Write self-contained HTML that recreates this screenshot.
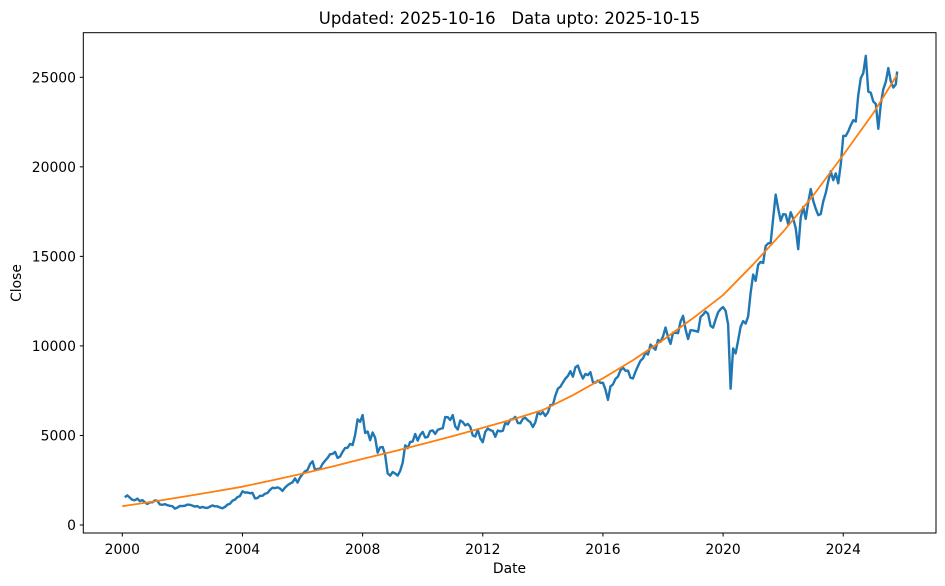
<!DOCTYPE html>
<html><head><meta charset="utf-8"><style>
html,body{margin:0;padding:0;background:#fff;}
svg{display:block;font-family:"DejaVu Sans","Liberation Sans",sans-serif;}
</style></head><body>
<svg id="chart" width="945" height="586" viewBox="0 0 945 586">
<rect x="0" y="0" width="945" height="586" fill="#fff"/>
<text x="509.5" y="24" text-anchor="middle" font-size="16.5" fill="#000" style="white-space:pre" xml:space="preserve">Updated: 2025-10-16   Data upto: 2025-10-15</text>
<g id="marks"></g>
<g id="axes"></g>
<text x="509.5" y="573" text-anchor="middle" font-size="13.9">Date</text>
<text transform="translate(21,283) rotate(-90)" text-anchor="middle" font-size="13.9">Close</text>
<rect x="83.3" y="32.7" width="852.7" height="500.3" fill="none" stroke="#000" stroke-width="1"/>
</svg>
<script>
const startYear = 2000;
const closes = [
1546,1654,1528,1406,1380,1471,1332,1394,1271,1172,1268,1264,
1371,1352,1148,1126,1167,1107,1073,1053,913,971,1067,1059,
1075,1142,1129,1084,1028,1058,960,1010,964,951,1026,1094,
1042,1041,978,934,1006,1134,1185,1356,1418,1556,1615,1880,
1809,1818,1772,1796,1484,1505,1632,1632,1746,1786,1959,2081,
2058,2103,2036,1902,2087,2221,2312,2385,2602,2370,2652,2837,
3001,3075,3403,3558,3071,3128,3143,3413,3588,3744,3955,3966,
4083,3745,3822,4088,4296,4318,4529,4464,5021,5901,5763,6139,
5137,5224,4735,5166,4870,4041,4333,4360,3921,2885,2755,2959,
2874,2763,3021,3474,4449,4291,4636,4662,5084,4712,5033,5201,
4882,4922,5249,5278,5087,5313,5368,5402,6030,6018,5863,6135,
5506,5333,5834,5750,5561,5647,5482,5001,4943,5327,4832,4624,
5199,5385,5296,5248,4924,5279,5229,5259,5703,5620,5880,5905,
6035,5693,5683,5930,5986,5842,5742,5472,5735,6299,6176,6304,
6090,6277,6704,6696,7230,7611,7721,7954,8174,8322,8588,8283,
8809,8902,8491,8182,8434,8369,8533,7971,7949,8066,7935,7946,
7564,6987,7738,7850,8160,8288,8639,8786,8611,8626,8224,8186,
8561,8880,9174,9304,9621,9521,10077,9918,9789,10335,10227,10531,
11028,10493,10114,10739,10736,10714,11357,11681,10930,10387,10877,10863,
10831,10793,11624,11748,11923,11789,11118,11023,11474,11877,12056,12168,
11962,11202,7610,9860,9580,10302,11073,11388,11248,11642,12969,13982,
13635,14529,14691,14631,15583,15722,15763,17132,18450,17672,16983,17354,
17340,16794,17465,17103,16585,15400,17158,17759,17094,18012,18758,18105,
17662,17304,17360,18065,18534,19189,19754,19254,19638,19080,20133,21731,
21726,21983,22327,22605,22531,24011,24951,25236,26200,24205,24131,23645,
23508,22125,23519,24334,24751,25517,24768,24427,24611,25324
];
const trendYears = [2000,2001,2002,2003,2004,2005,2006,2007,2008,2009,2010,2011,2012,2013,2014,2015,2016,2017,2018,2019,2020,2021,2022,2023,2024,2025,2025.79];
const trendValues = [1050,1300,1570,1850,2140,2500,2870,3270,3690,4100,4520,4960,5430,5900,6420,7250,8190,9200,10330,11550,12840,14550,16380,18400,20660,23000,25130];
const xTicks = [2000,2004,2008,2012,2016,2020,2024];
const yTicks = [0,5000,10000,15000,20000,25000];

const NS="http://www.w3.org/2000/svg";
const xs = yr => 122.3 + (yr-2000)*30.04;
const ys = v => 525 - v*(525-77.3)/25000;
const marks=document.getElementById('marks'), axes=document.getElementById('axes');

let d='';
closes.forEach((v,i)=>{const yr=startYear+(i+1)/12-(i===closes.length-1?0.04:0);d+=(i?'L':'M')+xs(yr).toFixed(2)+','+ys(v).toFixed(2);});
const p=document.createElementNS(NS,'path');
p.setAttribute('d',d);p.setAttribute('fill','none');p.setAttribute('stroke','#1f77b4');p.setAttribute('stroke-width','2.4');p.setAttribute('stroke-linejoin','round');


marks.appendChild(p);

let t='';
trendYears.forEach((yr,i)=>{t+=(i?'L':'M')+xs(yr).toFixed(2)+','+ys(trendValues[i]).toFixed(2);});
const tp=document.createElementNS(NS,'path');
tp.setAttribute('d',t);tp.setAttribute('fill','none');tp.setAttribute('stroke','#ff7f0e');tp.setAttribute('stroke-width','1.8');tp.setAttribute('stroke-linejoin','round');


marks.appendChild(tp);

xTicks.forEach(yr=>{
  const x=xs(yr);
  const l=document.createElementNS(NS,'line');
  l.setAttribute('x1',x);l.setAttribute('x2',x);l.setAttribute('y1',533);l.setAttribute('y2',536.5);l.setAttribute('stroke','#000');
  
  
  axes.appendChild(l);
  const tx=document.createElementNS(NS,'text');
  tx.setAttribute('x',x);tx.setAttribute('y',554);tx.setAttribute('text-anchor','middle');tx.setAttribute('font-size','13.9');
  tx.textContent=yr;
  
  
  axes.appendChild(tx);
});
yTicks.forEach(v=>{
  const y=ys(v);
  const l=document.createElementNS(NS,'line');
  l.setAttribute('x1',79.8);l.setAttribute('x2',83.3);l.setAttribute('y1',y);l.setAttribute('y2',y);l.setAttribute('stroke','#000');
  
  
  axes.appendChild(l);
  const tx=document.createElementNS(NS,'text');
  tx.setAttribute('x',76);tx.setAttribute('y',y+5);tx.setAttribute('text-anchor','end');tx.setAttribute('font-size','13.9');
  tx.textContent=v;
  
  
  axes.appendChild(tx);
});
</script>
</body></html>
